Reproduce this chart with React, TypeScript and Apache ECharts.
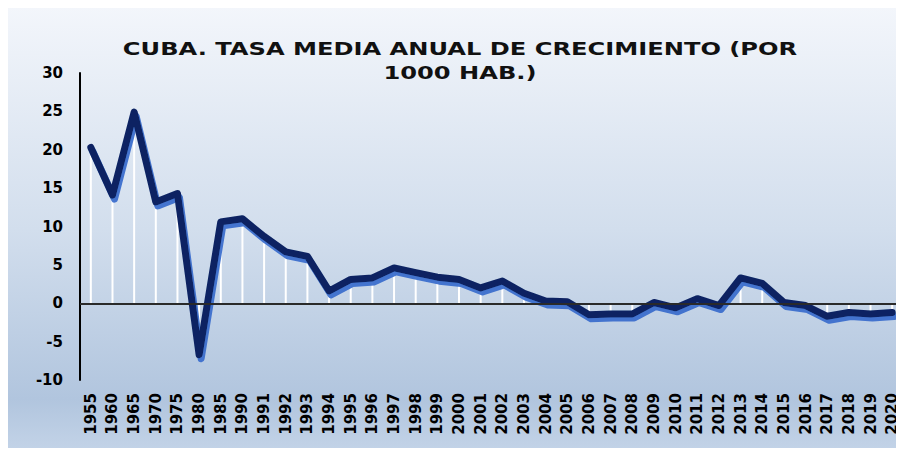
import React, { useEffect, useRef } from "react";
import * as echarts from "echarts";

const categories: string[] = [
  "1955", "1960", "1965", "1970", "1975", "1980", "1985", "1990",
  "1991", "1992", "1993", "1994", "1995", "1996", "1997", "1998", "1999", "2000",
  "2001", "2002", "2003", "2004", "2005", "2006", "2007", "2008", "2009", "2010",
  "2011", "2012", "2013", "2014", "2015", "2016", "2017", "2018", "2019", "2020",
];

const growthRate: number[] = [
  20.3, 14.1, 24.9, 13.2, 14.3, -6.7, 10.6, 11.0,
  8.7, 6.7, 6.1, 1.6, 3.1, 3.3, 4.6, 4.0, 3.4, 3.1,
  2.0, 2.9, 1.3, 0.3, 0.2, -1.5, -1.4, -1.4, 0.1, -0.6,
  0.6, -0.3, 3.3, 2.6, 0.1, -0.3, -1.7, -1.2, -1.4, -1.2,
];

const titleLines: string[] = ["CUBA. TASA MEDIA ANUAL DE CRECIMIENTO (POR", "1000 HAB.)"];

const FONT = "'DejaVu Sans', sans-serif";

export default function App() {
  const ref = useRef<HTMLDivElement>(null);

  useEffect(() => {
    if (!ref.current) return;
    const chart = echarts.init(ref.current, undefined, { renderer: "svg" });
    chart.setOption({
      animation: false,
      backgroundColor: "#ffffff",
      graphic: [
        {
          type: "rect",
          z: -10,
          shape: { x: 5, y: 6, width: 899, height: 447 },
          style: {
            fill: new echarts.graphic.LinearGradient(0, 0, 0, 1, [
              { offset: 0, color: "#f3f6fb" },
              { offset: 0.5, color: "#d2deed" },
              { offset: 0.88, color: "#b1c5de" },
              { offset: 1, color: "#c4d4e8" },
            ]),
          },
        },
        {
          type: "text",
          x: 460,
          y: 49,
          scaleX: 1.38,
          style: {
            text: titleLines[0],
            font: "bold 17.5px 'DejaVu Sans', sans-serif",
            fill: "#111",
            align: "center",
            verticalAlign: "middle",
          },
        },
        {
          type: "text",
          x: 460,
          y: 73,
          scaleX: 1.38,
          style: {
            text: titleLines[1],
            font: "bold 17.5px 'DejaVu Sans', sans-serif",
            fill: "#111",
            align: "center",
            verticalAlign: "middle",
          },
        },
      ],
      grid: { left: 80, right: 1, top: 73, bottom: 76, containLabel: false },
      xAxis: {
        type: "category",
        data: categories,
        boundaryGap: true,
        position: "bottom",
        axisLine: { show: false, onZero: false },
        axisTick: { show: false },
        axisLabel: {
          rotate: 90,
          interval: 0,
          margin: 13,
          fontFamily: FONT,
          fontWeight: "bold",
          fontSize: 15,
          color: "#000",
        },
        splitLine: { show: false },
      },
      yAxis: {
        type: "value",
        min: -10,
        max: 30,
        interval: 5,
        axisLine: { show: true, lineStyle: { color: "#000", width: 2 } },
        axisTick: { show: false },
        axisLabel: {
          margin: 17,
          fontFamily: FONT,
          fontWeight: "bold",
          fontSize: 15,
          color: "#000",
        },
        splitLine: { show: false },
      },
      series: [
        {
          type: "bar",
          data: growthRate,
          barWidth: 2,
          z: 2,
          itemStyle: { color: "#ffffff" },
          markLine: {
            silent: true,
            symbol: "none",
            label: { show: false },
            lineStyle: { color: "#2a2a2a", width: 2, type: "solid" },
            data: [{ yAxis: 0 }],
          },
        },
        {
          type: "line",
          data: growthRate,
          z: 3,
          symbol: "none",
          lineStyle: {
            color: "#0a2262",
            width: 7,
            cap: "round",
            join: "round",
            shadowColor: "rgba(60,110,205,0.95)",
            shadowBlur: 1,
            shadowOffsetX: 2,
            shadowOffsetY: 4,
          },
        },
      ],
    });
    return () => chart.dispose();
  }, []);

  return <div ref={ref} style={{ width: 904, height: 456, margin: -8 }} />;
}
